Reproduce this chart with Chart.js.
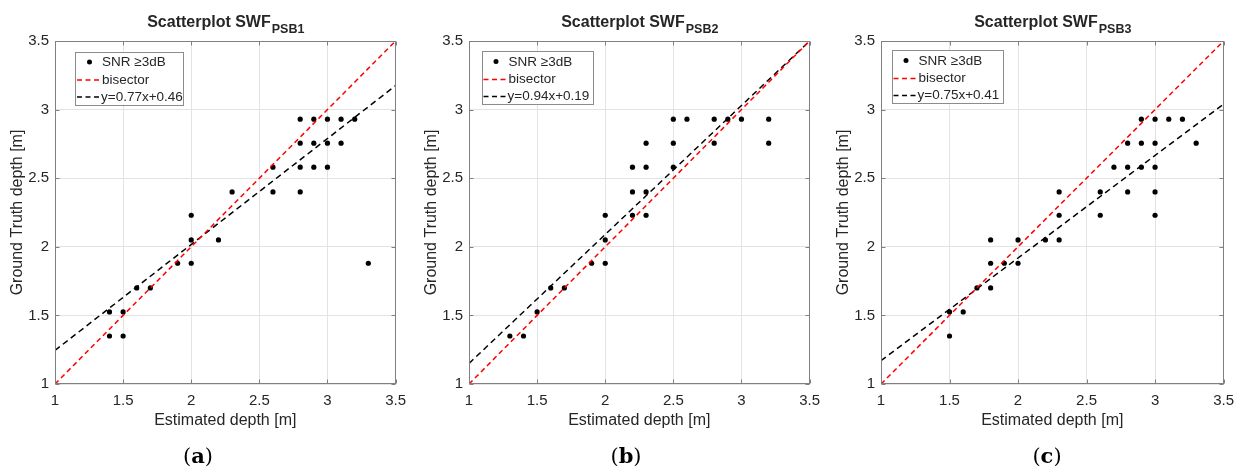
<!DOCTYPE html>
<html>
<head>
<meta charset="utf-8">
<script src="https://cdn.jsdelivr.net/npm/chart.js@4.4.1/dist/chart.umd.min.js"></script>
<style>
  html, body { margin: 0; padding: 0; background: #fff; }
  #wrap { position: relative; width: 1242px; height: 473px; }
  canvas { position: absolute; top: 0; }
</style>
</head>
<body>
<div id="wrap">
  <canvas id="chart-a" width="414" height="473" style="left:0px"></canvas>
  <canvas id="chart-b" width="414" height="473" style="left:414px"></canvas>
  <canvas id="chart-c" width="414" height="473" style="left:828px"></canvas>
</div>
<script>
// axis ticks (same for all three panels)
const TICKS = [1, 1.5, 2, 2.5, 3, 3.5];
const FIT_X = [1, 3.5];
const BIS_Y = [1, 3.5];

// panel (a) PSB1
const xsA = [2.8, 2.9, 3.0, 3.1, 3.2, 2.8, 2.9, 3.0, 3.1, 2.6, 2.8, 2.9, 3.0, 2.3, 2.6, 2.8, 2.0, 2.0, 2.2, 1.9, 2.0, 3.3, 1.6, 1.7, 1.4, 1.5, 1.4, 1.5];
const ysA = [2.93, 2.93, 2.93, 2.93, 2.93, 2.755, 2.755, 2.755, 2.755, 2.58, 2.58, 2.58, 2.58, 2.40, 2.40, 2.40, 2.23, 2.05, 2.05, 1.88, 1.88, 1.88, 1.70, 1.70, 1.525, 1.525, 1.35, 1.35];
const fitA = [1.245, 3.175];

// panel (b) PSB2
const xsB = [2.5, 2.6, 2.8, 2.9, 3.0, 3.2, 2.3, 2.5, 2.8, 3.2, 2.2, 2.3, 2.5, 2.2, 2.3, 2.0, 2.2, 2.3, 2.0, 1.9, 2.0, 1.6, 1.7, 1.5, 1.3, 1.4];
const ysB = [2.93, 2.93, 2.93, 2.93, 2.93, 2.93, 2.755, 2.755, 2.755, 2.755, 2.58, 2.58, 2.58, 2.40, 2.40, 2.23, 2.23, 2.23, 2.05, 1.88, 1.88, 1.70, 1.70, 1.525, 1.35, 1.35];
const fitB = [1.15, 3.5];

// panel (c) PSB3
const xsC = [2.9, 3.0, 3.1, 3.2, 2.8, 2.9, 3.0, 3.3, 2.7, 2.8, 2.9, 3.0, 2.3, 2.6, 2.8, 3.0, 2.3, 2.6, 3.0, 1.8, 2.0, 2.2, 2.3, 1.8, 1.9, 2.0, 1.7, 1.8, 1.5, 1.6, 1.5];
const ysC = [2.93, 2.93, 2.93, 2.93, 2.755, 2.755, 2.755, 2.755, 2.58, 2.58, 2.58, 2.58, 2.40, 2.40, 2.40, 2.40, 2.23, 2.23, 2.23, 2.05, 2.05, 2.05, 2.05, 1.88, 1.88, 1.88, 1.70, 1.70, 1.525, 1.525, 1.35];
const fitC = [1.17, 3.04];

const SANS = `"Liberation Sans", Arial, Helvetica, sans-serif`;
const SERIF = `"DejaVu Serif", "Liberation Serif", serif`;
const TXT = `#262626`;
const AXIS = `#808080`;
const GRID = `#e3e3e3`;

let toPts = (xs, ys) => xs.map((x, i) => ({ x: x, y: ys[i] }));

// frame, inward ticks, title with subscript, axis titles, legend box and panel tag
const decor = {
	id: `decor`,
	afterDraw(chart, args, o) {
		const { ctx, chartArea: a, scales: { x, y } } = chart;
		const L = Math.round(a.left) + 0.5, R = Math.round(a.right) - 0.5;
		const T = Math.round(a.top) + 0.5, B = Math.round(a.bottom) - 0.5;
		ctx.save();
		ctx.strokeStyle = AXIS;
		ctx.lineWidth = 1;
		ctx.setLineDash([]);
		ctx.strokeRect(L, T, R - L, B - T);
		ctx.beginPath();
		for (let v of TICKS) {
			let px = Math.round(x.getPixelForValue(v)) + 0.5;
			let py = Math.round(y.getPixelForValue(v)) + 0.5;
			ctx.moveTo(px, B); ctx.lineTo(px, B - 4);
			ctx.moveTo(px, T); ctx.lineTo(px, T + 4);
			ctx.moveTo(L, py); ctx.lineTo(L + 4, py);
			ctx.moveTo(R, py); ctx.lineTo(R - 4, py);
		}
		ctx.stroke();

		// title
		ctx.fillStyle = TXT;
		ctx.textBaseline = `alphabetic`;
		ctx.textAlign = `left`;
		const main = `Scatterplot SWF`;
		ctx.font = `bold 16px ${SANS}`;
		let w1 = ctx.measureText(main).width;
		ctx.font = `bold 12.5px ${SANS}`;
		let w2 = ctx.measureText(o.sub).width;
		let tx = (a.left + a.right) / 2 - (w1 + w2) / 2;
		ctx.font = `bold 16px ${SANS}`;
		ctx.fillText(main, tx, 27);
		ctx.font = `bold 12.5px ${SANS}`;
		ctx.fillText(o.sub, tx + w1 + 1, 33);

		// axis titles
		ctx.font = `16px ${SANS}`;
		ctx.textAlign = `center`;
		ctx.fillText(`Estimated depth [m]`, (a.left + a.right) / 2, 425);
		ctx.save();
		ctx.translate(a.left - 37, (a.top + a.bottom) / 2);
		ctx.rotate(-Math.PI / 2);
		ctx.textBaseline = `middle`;
		ctx.fillText(`Ground Truth depth [m]`, 0, 0);
		ctx.restore();

		// legend
		let lx = a.left + o.legX, ly = o.legTop;
		ctx.fillStyle = `#ffffff`;
		ctx.fillRect(lx, ly, o.legW, 53);
		ctx.strokeStyle = `#8c8c8c`;
		ctx.strokeRect(Math.round(lx) + 0.5, Math.round(ly) + 0.5, o.legW, 53);
		ctx.font = `13.5px ${SANS}`;
		ctx.textAlign = `left`;
		ctx.textBaseline = `middle`;
		ctx.fillStyle = `#000`;
		ctx.beginPath();
		ctx.arc(lx + 14.5, ly + 10.5, 2.5, 0, Math.PI * 2);
		ctx.fill();
		ctx.fillStyle = TXT;
		ctx.fillText(`SNR \u22653dB`, lx + 27, ly + 11);
		ctx.lineWidth = 1.5;
		ctx.setLineDash([5, 3.5]);
		ctx.strokeStyle = `#ff0000`;
		ctx.beginPath(); ctx.moveTo(lx + 2, ly + 28.5); ctx.lineTo(lx + 25, ly + 28.5); ctx.stroke();
		ctx.strokeStyle = `#000000`;
		ctx.beginPath(); ctx.moveTo(lx + 2, ly + 45.5); ctx.lineTo(lx + 25, ly + 45.5); ctx.stroke();
		ctx.fillText(`bisector`, lx + 27, ly + 28.5);
		ctx.fillText(o.fit, lx + 26, ly + 45.5);

		// panel tag "(a)"
		ctx.setLineDash([]);
		ctx.fillStyle = `#000`;
		ctx.textBaseline = `alphabetic`;
		ctx.font = `21px ${SERIF}`;
		let pw = ctx.measureText(`(`).width;
		ctx.font = `bold 21px ${SERIF}`;
		let lw = ctx.measureText(o.tag).width;
		let sx = o.tagX - (2 * pw + lw) / 2;
		ctx.font = `21px ${SERIF}`;
		ctx.fillText(`(`, sx, 463);
		ctx.fillText(`)`, sx + pw + lw, 463);
		ctx.font = `bold 21px ${SERIF}`;
		ctx.fillText(o.tag, sx + pw, 463);
		ctx.restore();
	},
};

let makePanel = (id, xs, ys, fit, yWidth, padRight, deco) => {
	return new Chart(document.getElementById(id).getContext(`2d`),
	{
		type: `scatter`,
		data: {
			datasets: [
			{
				label: `bisector`,
				data: toPts(FIT_X, BIS_Y),
				showLine: true,
				borderColor: `#ff0000`,
				borderWidth: 1.5,
				borderDash: [5, 3.5],
				pointRadius: 0,
			},
			{
				label: deco.fit,
				data: toPts(FIT_X, fit),
				showLine: true,
				borderColor: `#000000`,
				borderWidth: 1.5,
				borderDash: [6, 4],
				pointRadius: 0,
			},
			{
				label: `SNR \u22653dB`,
				data: toPts(xs, ys),
				backgroundColor: `#000000`,
				borderWidth: 0,
				pointRadius: 2.6,
			},],
		},
		options: {
			responsive: false,
			animation: false,
			events: [],
			layout: { padding: { left: 0, right: padRight, top: 41, bottom: 473 - 384 - 30 } },
			scales: {
				x: {
					type: `linear`, min: 1, max: 3.5,
					afterBuildTicks: (s) => { s.ticks = TICKS.map(v => ({ value: v })); },
					afterFit: (s) => { s.height = 30; },
					grid: { color: GRID, drawTicks: false },
					border: { display: false },
					ticks: { color: TXT, font: { family: SANS, size: 15 }, padding: 8, maxRotation: 0, callback: (v) => String(v) },
				},
				y: {
					type: `linear`, min: 1, max: 3.5,
					afterBuildTicks: (s) => { s.ticks = TICKS.map(v => ({ value: v })); },
					afterFit: (s) => { s.width = yWidth; },
					grid: { color: GRID, drawTicks: false },
					border: { display: false },
					ticks: { color: TXT, font: { family: SANS, size: 15 }, padding: 6, callback: (v) => String(v) },
				},
			},
			plugins: {
				legend: { display: false },
				tooltip: { enabled: false },
				decor: deco,
			},
		},
		plugins: [decor],
	});
};

let chartA = makePanel(`chart-a`, xsA, ysA, fitA, 55, 16, { sub: `PSB1`, fit: `y=0.77x+0.46`, legX: 20, legTop: 51.5, legW: 108, tag: `a`, tagX: 198 });
let chartB = makePanel(`chart-b`, xsB, ysB, fitB, 55, 17, { sub: `PSB2`, fit: `y=0.94x+0.19`, legX: 12.5, legTop: 51, legW: 111, tag: `b`, tagX: 212 });
let chartC = makePanel(`chart-c`, xsC, ysC, fitC, 53, 18, { sub: `PSB3`, fit: `y=0.75x+0.41`, legX: 10.5, legTop: 50, legW: 111, tag: `c`, tagX: 219 });
</script>
</body>
</html>
